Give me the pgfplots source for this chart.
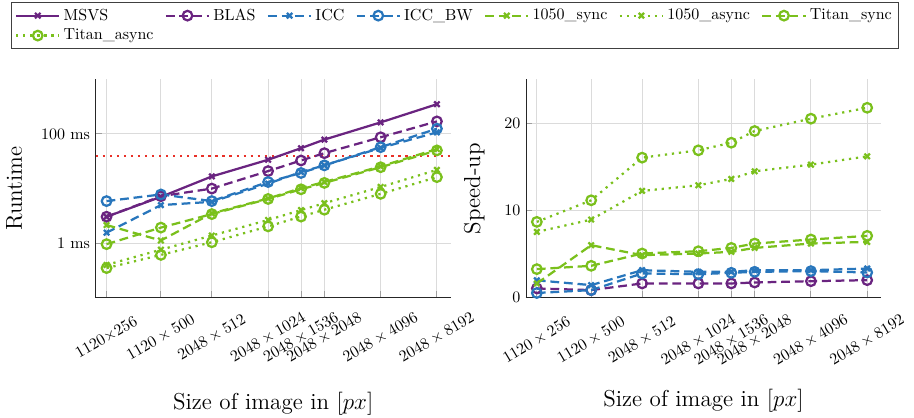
\documentclass[border=0pt]{standalone}
\usepackage{pgfplots}
\usepackage{pgfplotstable}
\pgfplotsset{compat=1.18}
\definecolor{cpur}{RGB}{106,36,128}
\definecolor{cblu}{RGB}{40,118,188}
\definecolor{cgrn}{RGB}{122,192,28}
\definecolor{cred}{RGB}{232,48,40}

\pgfplotstableread{
px        msvs  blas  icc   iccbw s1050 a1050 tsync tasync
286720    3.05  3.05  1.56  5.9   2.15  0.40  0.96  0.35
560000    7.05  7.25  4.98  7.8   1.12  0.76  1.93  0.61
1048576   16.7  10.0  5.73  5.9   3.51  1.38  3.41  1.04
2097152   33.7  20.9  12.3  13.2  6.58  2.66  6.45  2.03
3145728   54.9  32.7  20.1  19.3  10.2  4.04  9.7   3.07
4194304   78.9  44.5  26.6  26.6  13.2  5.40  12.7  4.10
8388608   163   87    55.6  57.3  25.5  10.7  24.6  8.0
16777216  351   170   107   125   53    22.0  50    16.2
}\rt

\pgfplotstableread{
px        blas  icc   iccbw s1050 a1050 tsync tasync
286720    1.07  2.0   0.55  1.64  7.54  3.28  8.69
560000    0.88  1.45  0.88  6.02  8.95  3.66  11.16
1048576   1.64  3.16  2.78  4.88  12.23 5.07  16.04
2097152   1.64  2.97  2.70  5.07  12.88 5.33  16.88
3145728   1.64  2.97  2.86  5.26  13.60 5.71  17.75
4194304   1.75  3.16  2.97  5.71  14.48 6.21  19.09
8388608   1.90  3.16  3.05  6.21  15.24 6.67  20.50
16777216  2.02  3.35  2.90  6.40  16.19 7.09  21.75
}\su

\tikzset{
  mydash/.style={dash pattern=on 5.5pt off 3pt},
  mydot/.style={dash pattern=on 1.4pt off 3pt},
}

\begin{document}
\begin{tikzpicture}
\path[use as bounding box] (-59.8pt,-74.6pt) rectangle (511.4pt,186.1pt);
\begin{axis}[
  scale only axis, width=221.9pt, height=136.5pt,
  at={(0pt,0pt)}, anchor=south west,
  xmode=log, xmin=250800, xmax=1.99e7,
  xtick={286720,560000,1048576,2097152,3145728,4194304,8388608,16777216},
  minor xtick={},
  axis x line=bottom, axis y line=left,
  axis line style={-, black!85, line width=0.6pt},
  grid=major, major grid style={gray!28, line width=0.6pt},
  tick style={gray!75, line width=0.6pt}, major tick length=4pt,
  tick align=inside,
  tick label style={font=\normalsize},
  clip=false,
  xlabel={\Large Size of image in [$px$]},
  ymode=log, ymin=0.1, ymax=1000, ytick={1,100}, minor ytick={},
  yticklabels={1 ms, 100 ms},
  xticklabels={$1120{\times}256$, $1120\times500$, $2048\times512$, $2048\times1024$, $2048\times1536$, $2048\times2048$, $2048\times4096$, $2048\times8192$},
  xticklabel style={yshift=-24.9pt, rotate=30, anchor=center},
  ylabel={\Large Runtime},
  ylabel style={at={(-0.2296,0.5)}, anchor=center},
  xlabel style={at={(0.5,-0.484)}, anchor=center},
  legend columns=7,
  legend cell align=left,
  legend style={at={(1.012,1.355)}, anchor=north, draw=black!75, line width=0.6pt,
    font=\normalsize, inner sep=2pt,
    /tikz/every even column/.append style={column sep=5pt}},
  legend image code/.code={\draw[mark repeat=2,mark phase=2] plot coordinates {(0pt,0pt) (13.5pt,0pt) (27pt,0pt)};},
]
\addplot[color=cred, mydot, line width=1.4pt, forget plot] coordinates {(250800,40) (1.99e7,40)};
\addplot[color=cpur, line width=1.4pt, solid, mark=x, mark size=2.4pt, mark options={solid}] table[x=px,y=msvs]{\rt};
\addlegendentry{MSVS}
\addplot[color=cpur, line width=1.4pt, mydash, mark=o, mark size=3pt, mark options={solid}] table[x=px,y=blas]{\rt};
\addlegendentry{BLAS}
\addplot[color=cblu, line width=1.4pt, mydash, mark=x, mark size=2.4pt, mark options={solid}] table[x=px,y=icc]{\rt};
\addlegendentry{ICC}
\addplot[color=cblu, line width=1.4pt, mydash, mark=o, mark size=3pt, mark options={solid}] table[x=px,y=iccbw]{\rt};
\addlegendentry{ICC\_BW}
\addplot[color=cgrn, line width=1.4pt, mydash, mark=x, mark size=2.4pt, mark options={solid}] table[x=px,y=s1050]{\rt};
\addlegendentry{1050\_sync}
\addplot[color=cgrn, line width=1.4pt, mydot, mark=x, mark size=2.4pt, mark options={solid}] table[x=px,y=a1050]{\rt};
\addlegendentry{1050\_async}
\addplot[color=cgrn, line width=1.4pt, mydash, mark=o, mark size=3pt, mark options={solid}] table[x=px,y=tsync]{\rt};
\addlegendentry{Titan\_sync}
\addplot[color=cgrn, line width=1.4pt, mydot, mark=o, mark size=3pt, mark options={solid}] table[x=px,y=tasync]{\rt};
\addlegendentry{Titan\_async}
\end{axis}

\begin{axis}[
  scale only axis, width=221.9pt, height=136.5pt,
  at={(268.9pt,0pt)}, anchor=south west,
  xmode=log, xmin=250800, xmax=1.99e7,
  xtick={286720,560000,1048576,2097152,3145728,4194304,8388608,16777216},
  minor xtick={},
  axis x line=bottom, axis y line=left,
  axis line style={-, black!85, line width=0.6pt},
  grid=major, major grid style={gray!28, line width=0.6pt},
  tick style={gray!75, line width=0.6pt}, major tick length=4pt,
  tick align=inside,
  tick label style={font=\normalsize},
  clip=false,
  xlabel={\Large Size of image in [$px$]},
  ymin=0, ymax=25, ytick={0,10,20},
  xticklabels={$1120\times256$, $1120\times500$, $2048\times512$, $2048\times1024$, $2048\times1536$, $2048\times2048$, $2048\times4096$, $2048\times8192$},
  xticklabel style={yshift=-26.6pt, rotate=31, anchor=center},
  ylabel={\Large Speed-up},
  ylabel style={at={(-0.1456,0.5)}, anchor=center},
  xlabel style={at={(0.5,-0.472)}, anchor=center},
]
\addplot[color=cpur, line width=1.4pt, mydash, mark=o, mark size=3pt, mark options={solid}] table[x=px,y=blas]{\su};
\addplot[color=cblu, line width=1.4pt, mydash, mark=x, mark size=2.4pt, mark options={solid}] table[x=px,y=icc]{\su};
\addplot[color=cblu, line width=1.4pt, mydash, mark=o, mark size=3pt, mark options={solid}] table[x=px,y=iccbw]{\su};
\addplot[color=cgrn, line width=1.4pt, mydash, mark=x, mark size=2.4pt, mark options={solid}] table[x=px,y=s1050]{\su};
\addplot[color=cgrn, line width=1.4pt, mydot, mark=x, mark size=2.4pt, mark options={solid}] table[x=px,y=a1050]{\su};
\addplot[color=cgrn, line width=1.4pt, mydash, mark=o, mark size=3pt, mark options={solid}] table[x=px,y=tsync]{\su};
\addplot[color=cgrn, line width=1.4pt, mydot, mark=o, mark size=3pt, mark options={solid}] table[x=px,y=tasync]{\su};
\end{axis}
\end{tikzpicture}
\end{document}
